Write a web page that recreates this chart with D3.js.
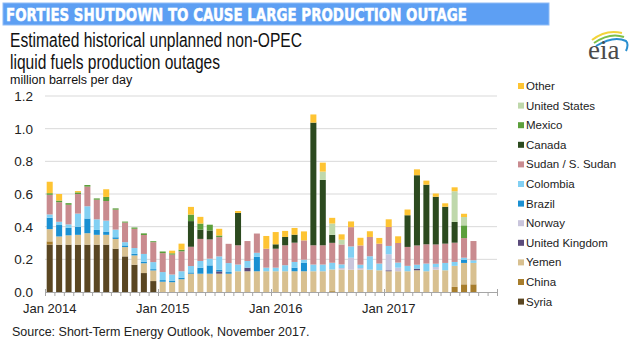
<!DOCTYPE html>
<html>
<head>
<meta charset="utf-8">
<script src="https://cdn.jsdelivr.net/npm/d3@7"></script>
<style>
  body { margin: 0; background: #fff; }
  svg { display: block; font-family: "Liberation Sans", Arial, sans-serif; }
</style>
</head>
<body>
<div id="chart"></div>
<script>
// monthly outages, million barrels per day, Jan 2014 - Oct 2017
const months = d3.timeMonths(new Date(2014, 0, 1), new Date(2018, 0, 1));
const yTicks = [0, 0.2, 0.4, 0.6, 0.8, 1.0, 1.2];
const yearTicks = ["Jan 2014", "Jan 2015", "Jan 2016", "Jan 2017"];

const syria    = [0.29,0.29,0.29,0.29,0.29,0.29,0.29,0.265,0.218,0.167,0.116,0.067,0,0,0,0,0,0,0,0,0,0,0,0,0,0,0,0,0,0,0,0,0,0,0,0,0,0,0,0,0,0,0,0,0,0];
const china    = [0.02,0,0,0,0,0,0,0,0,0,0,0,0,0,0,0,0,0,0,0,0,0,0,0,0,0,0,0,0,0,0.005,0,0,0,0,0,0,0,0,0,0,0,0,0.031,0.047,0.047];
const yemen    = [0.075,0.05,0.057,0.06,0.07,0.06,0.06,0.06,0.057,0.057,0.06,0.065,0.063,0.06,0.078,0.112,0.112,0.112,0.112,0.112,0.127,0.127,0.127,0.127,0.127,0.127,0.127,0.127,0.127,0.127,0.133,0.137,0.137,0.137,0.137,0.133,0.127,0.127,0.127,0.133,0.127,0.137,0.133,0.129,0.131,0.131];
const uk       = [0,0,0,0,0,0,0,0,0,0,0,0,0,0,0,0,0,0,0.014,0,0,0.022,0,0,0,0,0,0,0,0,0,0,0,0,0,0,0.006,0,0,0.01,0,0,0,0,0,0];
const norway   = [0,0,0,0,0,0,0,0,0,0,0,0,0,0,0,0,0,0,0,0,0,0,0,0,0,0,0,0,0,0,0,0.01,0.073,0.01,0,0,0.098,0.022,0,0,0,0.016,0,0,0,0];
const brazil   = [0.07,0.07,0.047,0.05,0.09,0.03,0.02,0.01,0.01,0.01,0.01,0.008,0.01,0.01,0.01,0.008,0.037,0.051,0.01,0.01,0,0,0.088,0,0,0,0.022,0.051,0,0,0,0,0,0,0,0,0,0,0,0,0,0,0,0,0.02,0];
const colombia = [0.02,0.02,0.02,0.08,0.075,0.065,0.067,0.047,0.02,0.035,0.047,0.043,0.049,0.037,0.039,0.039,0.041,0.041,0.082,0.055,0.041,0.041,0.025,0.022,0.022,0.037,0.035,0.02,0.041,0.041,0.041,0.022,0.069,0.02,0.082,0.041,0.051,0.031,0.033,0.024,0.047,0.02,0.045,0.024,0.012,0.016];
const sudan    = [0.12,0.12,0.12,0.12,0.12,0.12,0.12,0.122,0.12,0.118,0.116,0.122,0.116,0.122,0.122,0.118,0.135,0.118,0.118,0.118,0.118,0.122,0.118,0.116,0.116,0.122,0.118,0.118,0.118,0.118,0.122,0.122,0.118,0.118,0.118,0.122,0.116,0.12,0.116,0.118,0.118,0.118,0.118,0.118,0.12,0.118];
const canada   = [0,0,0,0,0,0,0,0,0,0,0,0,0,0,0,0.157,0.057,0.055,0,0,0.198,0,0,0,0.027,0.051,0.049,0,0.751,0.40,0.049,0,0,0,0,0,0,0,0.194,0.43,0.365,0.292,0.226,0.127,0,0];
const mexico   = [0.01,0.01,0.01,0.01,0.01,0.008,0.025,0.008,0.006,0.008,0.01,0.006,0.01,0.008,0.01,0.04,0.037,0.035,0.01,0,0,0,0,0,0,0,0,0,0,0,0,0,0,0,0,0,0,0,0,0,0,0,0,0,0.078,0];
const us       = [0,0,0,0,0,0,0,0,0,0,0,0,0,0,0,0,0,0,0,0,0,0,0,0,0,0,0,0,0,0.051,0.069,0.029,0,0,0,0,0,0,0,0,0,0,0,0.188,0.051,0];
const other    = [0.07,0.04,0,0.008,0,0,0.047,0,0,0,0,0,0,0.016,0.037,0.047,0.041,0,0.041,0,0.012,0,0,0.078,0.075,0.037,0.041,0.055,0.05,0.055,0.035,0.033,0.035,0.047,0.035,0.035,0.047,0.041,0.035,0.036,0.025,0.02,0.021,0.024,0.02,0];

// bottom to top of each stack
const seriesNames = ["Syria", "China", "Yemen", "United Kingdom", "Norway", "Brazil",
  "Colombia", "Sudan / S. Sudan", "Canada", "Mexico", "United States", "Other"];
const seriesValues = [syria, china, yemen, uk, norway, brazil, colombia, sudan, canada, mexico, us, other];
const seriesColors = ["#5a4622", "#a77d2c", "#d8c090", "#5b4b7b", "#c9c5dc", "#1a90d2",
  "#82d0f3", "#c98b8f", "#2c4a1f", "#5b9f3b", "#bfd8ab", "#fec433"];

const width = 640, height = 349;
const margin = { left: 45, right: 143, top: 96, bottom: 57 };

const rows = seriesValues[0].map((_, i) => {
  const r = { month: months[i] };
  seriesNames.forEach((n, k) => r[n] = seriesValues[k][i]);
  return r;
});

const stacked = d3.stack().keys(seriesNames)(rows);

const x = d3.scaleBand()
  .domain(months)
  .range([margin.left, width - margin.right])
  .paddingInner(0.36)
  .paddingOuter(0.18);

const y = d3.scaleLinear()
  .domain([0, 1.2])
  .range([height - margin.bottom, margin.top]);

const color = d3.scaleOrdinal(seriesNames, seriesColors);

const svg = d3.select("#chart").append("svg")
  .attr("width", width)
  .attr("height", height)
  .attr("viewBox", [0, 0, width, height]);

// banner
svg.append("rect")
  .attr("x", 3).attr("y", 3).attr("width", 546).attr("height", 22)
  .attr("fill", "#5d9ff3").attr("stroke", "#8fbcf6").attr("stroke-width", 1);
svg.append("text")
  .attr("x", 6).attr("y", 20.5)
  .attr("font-family", "DejaVu Sans, sans-serif")
  .attr("fill", "#fff")
  .attr("stroke", "#fff")
  .attr("stroke-width", 0.5)
  .attr("font-weight", "bold")
  .attr("font-size", 18)
  .attr("textLength", 461)
  .attr("lengthAdjust", "spacingAndGlyphs")
  .text("FORTIES SHUTDOWN TO CAUSE LARGE PRODUCTION OUTAGE");

// titles
const sub = [["Estimated historical unplanned non-OPEC", 47, 292], ["liquid fuels production outages", 69, 210]];
sub.forEach(([t, yy, len]) => {
  svg.append("text")
    .attr("x", 10).attr("y", yy)
    .attr("font-size", 20)
    .attr("fill", "#111")
    .attr("textLength", len)
    .attr("lengthAdjust", "spacingAndGlyphs")
    .text(t);
});
svg.append("text")
  .attr("x", 10).attr("y", 84)
  .attr("font-size", 12.5)
  .attr("fill", "#111")
  .text("million barrels per day");

// eia logo
const logo = svg.append("g").attr("transform", "translate(586,24)");
logo.append("path").attr("d", "M6,16 Q20,5 36,9").attr("fill", "none").attr("stroke", "#f2d43a").attr("stroke-width", 2);
logo.append("path").attr("d", "M8,19 Q24,8 38,13").attr("fill", "none").attr("stroke", "#7cbf4a").attr("stroke-width", 2);
logo.append("path").attr("d", "M10,22 Q28,11 40,17 Q43,20 40,27").attr("fill", "none").attr("stroke", "#2a8fcf").attr("stroke-width", 2);
logo.append("text")
  .attr("x", 2).attr("y", 35)
  .attr("font-family", "Liberation Serif, DejaVu Serif, serif")
  .attr("font-size", 27)
  .attr("fill", "#4a4a4a")
  .text("eia");

// grid
svg.append("g")
  .selectAll("line")
  .data(yTicks.filter(d => d > 0))
  .join("line")
    .attr("x1", margin.left).attr("x2", width - margin.right)
    .attr("y1", d => y(d)).attr("y2", d => y(d))
    .attr("stroke", "#d9d9d9").attr("stroke-width", 1);

svg.append("g")
  .attr("font-size", 13.5)
  .attr("fill", "#222")
  .attr("text-anchor", "end")
  .selectAll("text")
  .data(yTicks)
  .join("text")
    .attr("x", 33)
    .attr("y", d => y(d) + 5)
    .text(d3.format(".1f"));

// bars
svg.append("g")
  .selectAll("g")
  .data(stacked)
  .join("g")
    .attr("fill", d => color(d.key))
  .selectAll("rect")
  .data(d => d)
  .join("rect")
    .attr("x", d => x(d.data.month))
    .attr("width", x.bandwidth())
    .attr("y", d => y(d[1]))
    .attr("height", d => Math.max(0, y(d[0]) - y(d[1])));

// x axis: month boundaries, longer tick at each January
const y0 = y(0);
const boundary = i => margin.left + i * x.step();
svg.append("line")
  .attr("x1", margin.left).attr("x2", width - margin.right)
  .attr("y1", y0 + 0.5).attr("y2", y0 + 0.5)
  .attr("stroke", "#a6a6a6");
svg.append("g")
  .selectAll("line")
  .data(d3.range(months.length + 1))
  .join("line")
    .attr("x1", i => boundary(i) + 0.5)
    .attr("x2", i => boundary(i) + 0.5)
    .attr("y1", i => i % 12 === 0 ? y0 - 3 : y0)
    .attr("y2", y0 + 4)
    .attr("stroke", "#a6a6a6");

svg.append("g")
  .attr("font-size", 13)
  .attr("fill", "#222")
  .attr("text-anchor", "middle")
  .selectAll("text")
  .data(yearTicks)
  .join("text")
    .attr("x", (d, i) => x(months[i * 12]) + x.bandwidth() / 2)
    .attr("y", 313)
    .text(d => d);

// legend
const legend = svg.append("g")
  .attr("font-size", 11.5)
  .attr("fill", "#222")
  .selectAll("g")
  .data(seriesNames.slice().reverse())
  .join("g")
    .attr("transform", (d, i) => `translate(518,${86 + i * 19.6})`);
legend.append("rect")
  .attr("x", 0).attr("y", -3).attr("width", 6).attr("height", 6)
  .attr("fill", d => color(d));
legend.append("text")
  .attr("x", 8).attr("y", 4)
  .text(d => d);

// source
svg.append("text")
  .attr("x", 12).attr("y", 336)
  .attr("font-size", 12.5)
  .attr("fill", "#222")
  .text("Source: Short-Term Energy Outlook, November 2017.");
</script>
</body>
</html>
